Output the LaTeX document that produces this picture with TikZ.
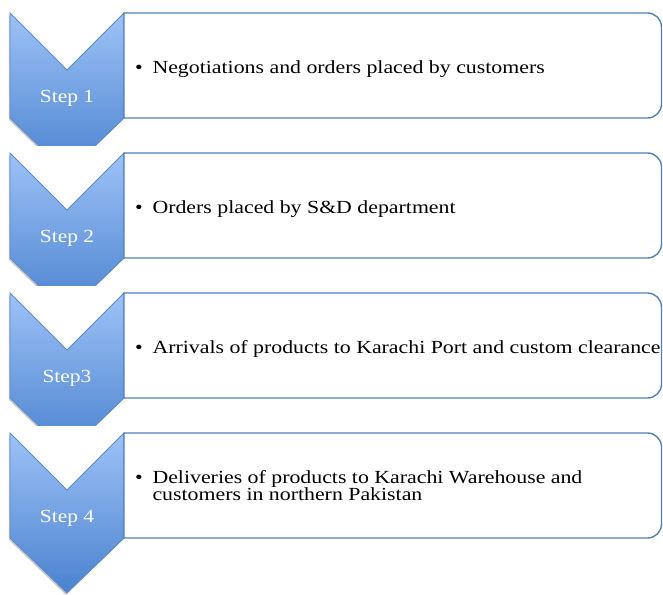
\documentclass[tikz,border=0pt]{standalone}
\usepackage{fontspec}
\usepackage{graphicx}
\setmainfont{Liberation Serif}
\usetikzlibrary{shadows}
\definecolor{chevtop}{HTML}{9EC2F7}
\definecolor{chevbot}{HTML}{4A82CF}
\definecolor{chevline}{HTML}{5A8AC6}
\definecolor{boxline}{HTML}{4F81BD}
\newcommand{\sxbox}[1]{\scalebox{1.16}[1]{#1}}
\newcommand{\sxtext}[1]{\scalebox{1.18}[1]{#1}}
\newcommand{\itembul}{\makebox[14.7pt][l]{\textbullet}}
\tikzset{
  chevron/.style={top color=chevtop, bottom color=chevbot, draw=chevline, line width=0.8pt,
    drop shadow={shadow xshift=-1.2pt, shadow yshift=-1.8pt, opacity=0.22, fill=black}},
  listbox/.style={draw=boxline, fill=white, line width=1.4pt},
  steplabel/.style={text=white, font=\fontsize{18.5}{18}\selectfont, inner sep=0pt, anchor=base},
  itemtext/.style={anchor=base west, font=\fontsize{18.5}{15.6}\selectfont, inner sep=0pt},
}
\newcommand{\chevshape}[1]{(10,#1) -- (67,#1+57) -- (124,#1) -- (124,#1+105) -- (67,#1+160) -- (10,#1+105) -- cycle}
\newcommand{\boxshape}[1]{(124,#1) -- (647.5,#1) arc[start angle=-90, end angle=0, radius=14] -- (661.5,#1+91) arc[start angle=0, end angle=90, radius=14] -- (124,#1+105) -- cycle}
\begin{document}
\begin{tikzpicture}[x=1pt, y=-1pt]
\useasboundingbox (0,0) rectangle (663,594);
% Step 1
\begin{scope}
  \clip (0,5) rectangle (130,145);
  \path[chevron] \chevshape{13};
\end{scope}
\draw[listbox] \boxshape{13};
\node[steplabel] (s1) at (67,102) {\sxbox{Step 1}};
\node[itemtext] (t1) at (135,73) {\sxtext{\begin{tabular}[t]{@{}l@{}}\itembul Negotiations and orders placed by customers\end{tabular}}};
% Step 2
\begin{scope}
  \clip (0,145) rectangle (130,285);
  \path[chevron] \chevshape{153};
\end{scope}
\draw[listbox] \boxshape{153};
\node[steplabel] (s2) at (67,242) {\sxbox{Step 2}};
\node[itemtext] (t2) at (135,213) {\sxtext{\begin{tabular}[t]{@{}l@{}}\itembul Orders placed by S\&D department\end{tabular}}};
% Step 3
\begin{scope}
  \clip (0,285) rectangle (130,425);
  \path[chevron] \chevshape{293};
\end{scope}
\draw[listbox] \boxshape{293};
\node[steplabel] (s3) at (67,382) {\sxbox{Step3}};
\node[itemtext] (t3) at (135,353) {\sxtext{\begin{tabular}[t]{@{}l@{}}\itembul Arrivals of products to Karachi Port and custom clearance\end{tabular}}};
% Step 4
\path[chevron] \chevshape{433};
\draw[listbox] \boxshape{433};
\node[steplabel] (s4) at (67,522) {\sxbox{Step 4}};
\node[itemtext] (t4) at (135,483) {\sxtext{\begin{tabular}[t]{@{}l@{}}\itembul Deliveries of products to Karachi Warehouse and\\ \makebox[14.7pt]{}customers in northern Pakistan\end{tabular}}};
\end{tikzpicture}
\end{document}
